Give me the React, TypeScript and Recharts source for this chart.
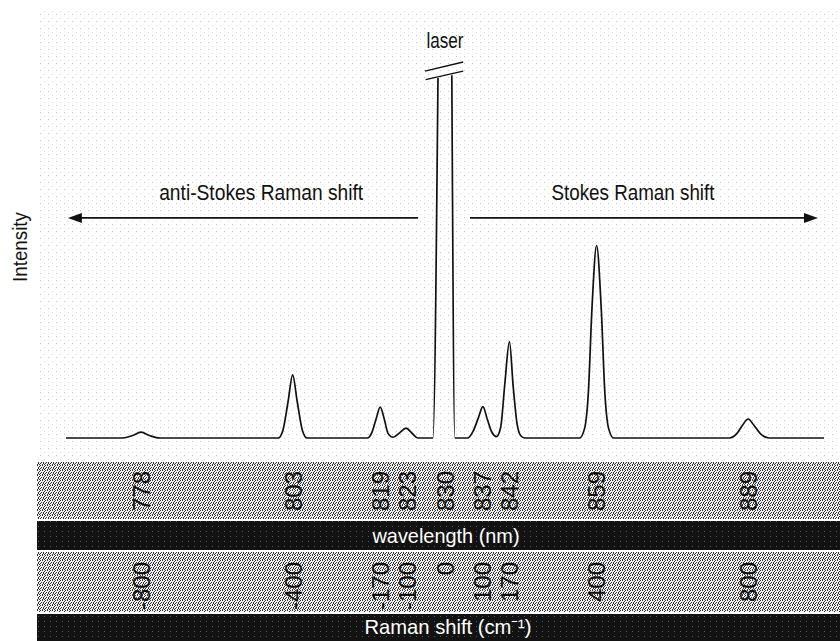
import React from 'react';
import { LineChart, Line, XAxis, YAxis, ReferenceLine, ReferenceDot } from 'recharts';

// Raman shift (cm-1) positions of the hand-read spectrum points
const spectrumShift = [
  -1000, -850, -826, -802, -778, -752,
  -440, -428, -414, -402, -390, -376, -364,
  -205, -193, -181, -171, -161, -150, -137,
  -120, -103, -87, -72,
  -32, -18.5, 0, 18, 26,
  60, 74, 88, 100, 112, 124, 136,
  147, 158, 170, 180, 190, 200, 210,
  355, 368, 378, 388, 400, 412, 422, 432, 445,
  750, 770, 785, 800, 815, 832, 855, 1000,
];
// Intensity (arbitrary units); null = broken laser line top
const spectrumIntensity: (number | null)[] = [
  0, 0, 0.6, 1.6, 0.6, 0,
  0, 2, 10, 17.3, 10, 2, 0,
  0, 1.5, 5.5, 8.5, 5.5, 1.2, 0.2,
  1.4, 2.7, 1.3, 0,
  0, 98.6, null, 99.4, 0,
  0, 1.8, 5.5, 8.6, 5, 1.5, 0.4,
  3, 15, 26.4, 14, 4, 0.6, 0,
  0, 2.5, 12, 36, 52.7, 36, 12, 2.5, 0,
  0, 1.2, 3.5, 5.2, 3.5, 1.2, 0, 0,
];

const ramanTicks = [-800, -400, -170, -100, 0, 100, 170, 400, 800];
const ramanTickLabels = ['-800', '-400', '-170', '-100', '0', '100', '170', '400', '800'];
const wavelengthTickLabels = ['778', '803', '819', '823', '830', '837', '842', '859', '889'];

const arrowLevel = 60.3;
const leftArrow = { from: -995, to: -71 };
const rightArrow = { from: 66, to: 984 };
const breakUpper = [{ x: -53, y: 100.5 }, { x: 48, y: 103 }];
const breakLower = [{ x: -51, y: 98.2 }, { x: 48, y: 100.5 }];

const annotations = [
  { x: -485, y: 65.2, text: 'anti-Stokes Raman shift', len: 204 },
  { x: 496, y: 65.2, text: 'Stokes Raman shift', len: 163 },
  { x: 0, y: 106.8, text: 'laser', len: 37 },
];

const data = spectrumShift.map((s, i) => ({ shift: s, intensity: spectrumIntensity[i] }));

const W = 840;
const H = 641;
const FONT = '"Liberation Sans Narrow", "Arial Narrow", "Liberation Sans", Arial, sans-serif';
const WL_AXIS = 0;
const RS_AXIS = 1;

function Background() {
  const dots = [
    [0, 0], [2, 0], [4, 1], [1, 2], [3, 2], [0, 3], [2, 4], [4, 4], [3, 3],
  ];
  return (
    <svg width={W} height={H} style={{ position: 'absolute', left: 0, top: 0 }}>
      <defs>
        <pattern id="sparse" width="8" height="7" patternUnits="userSpaceOnUse">
          <rect x="0" y="0" width="1" height="1" fill="#c4c4c4" />
          <rect x="4" y="4" width="1" height="1" fill="#d6d6d6" />
        </pattern>
        <pattern id="stipple" width="5" height="5" patternUnits="userSpaceOnUse">
          <rect width="5" height="5" fill="#f2f2f2" />
          {dots.map(([x, y], i) => (
            <rect key={i} x={x} y={y} width="1" height="1" fill="#333333" />
          ))}
        </pattern>
        <pattern id="darkband" width="6" height="5" patternUnits="userSpaceOnUse">
          <rect width="6" height="5" fill="#121212" />
          <rect x="2" y="1" width="1" height="1" fill="#5a5a5a" />
        </pattern>
      </defs>
      <rect x={0} y={0} width={W} height={H} fill="#ffffff" />
      <rect x={37} y={8} width={803} height={452} fill="url(#sparse)" />
      <rect x={37} y={462} width={803} height={57} fill="url(#stipple)" />
      <rect x={37} y={521} width={803} height={29} fill="url(#darkband)" />
      <rect x={37} y={552} width={803} height={60} fill="url(#stipple)" />
      <rect x={37} y={614} width={803} height={27} fill="url(#darkband)" />
    </svg>
  );
}

const makeTick = (labels: string[], offset: number) => (props: any) => {
  const { x, y, payload } = props;
  const idx = ramanTicks.indexOf(payload.value);
  const label = labels[idx] ?? String(payload.value);
  const ay = y + offset;
  return (
    <text
      x={x}
      y={ay}
      dy="0.355em"
      textAnchor="end"
      transform={`rotate(-90 ${x} ${ay})`}
      fontSize={24}
      fontFamily={FONT}
      fill="#111"
    >
      {label}
    </text>
  );
};

const WlTick = makeTick(wavelengthTickLabels, 33);
const RsTick = makeTick(ramanTickLabels, 11);

const WlLabel = (p: any) => {
  const vb = p.viewBox || { x: 66, y: 438, width: 758, height: 113 };
  return (
    <text
      x={vb.x + vb.width / 2 + 1}
      y={vb.y + 105}
      fill="#ffffff"
      fontSize={21}
      fontFamily={FONT}
      textAnchor="middle"
      textLength={147}
      lengthAdjust="spacingAndGlyphs"
    >
      wavelength (nm)
    </text>
  );
};

const RsLabel = (p: any) => {
  const vb = p.viewBox || { x: 66, y: 551, width: 758, height: 90 };
  return (
    <text
      x={vb.x + vb.width / 2 + 3}
      y={vb.y + 83}
      fill="#ffffff"
      fontSize={21}
      fontFamily={FONT}
      textAnchor="middle"
      textLength={167}
      lengthAdjust="spacingAndGlyphs"
    >
      Raman shift (cm⁻¹)
    </text>
  );
};

const IntensityLabel = (p: any) => {
  const vb = p.viewBox || { x: 0, y: 0, width: 66, height: 438 };
  const x = vb.x + 27;
  const y = vb.y + 247;
  return (
    <text
      x={x}
      y={y}
      textAnchor="middle"
      transform={`rotate(-90 ${x} ${y})`}
      fontSize={21}
      fontFamily={FONT}
      fill="#111"
      textLength={70}
      lengthAdjust="spacingAndGlyphs"
    >
      Intensity
    </text>
  );
};

const makeTextShape = (text: string, len: number) => (p: any) => (
  <text
    x={p.cx}
    y={p.cy}
    textAnchor="middle"
    fontSize={22}
    fontFamily={FONT}
    fill="#111"
    textLength={len}
    lengthAdjust="spacingAndGlyphs"
  >
    {text}
  </text>
);

const LeftHead = (p: any) => (
  <polygon
    points={`${p.cx},${p.cy} ${p.cx + 14},${p.cy - 5} ${p.cx + 14},${p.cy + 5}`}
    fill="#111"
  />
);
const RightHead = (p: any) => (
  <polygon
    points={`${p.cx},${p.cy} ${p.cx - 14},${p.cy - 5} ${p.cx - 14},${p.cy + 5}`}
    fill="#111"
  />
);

export default function App() {
  return (
    <div style={{ position: 'relative', width: W, height: H, overflow: 'hidden' }}>
      <style>{'body{margin:0;}'}</style>
      <Background />
      <div style={{ position: 'absolute', left: 0, top: 0 }}>
        <LineChart width={W} height={H} data={data} margin={{ top: 0, right: 16, bottom: 0, left: 0 }}>
          <XAxis
            xAxisId={WL_AXIS}
            type="number"
            dataKey="shift"
            domain={[-1000, 1000]}
            ticks={ramanTicks}
            interval={0}
            height={113}
            axisLine={false}
            tickLine={false}
            tickSize={0}
            tickMargin={0}
            tick={WlTick}
            label={{ content: WlLabel }}
          />
          <XAxis
            xAxisId={RS_AXIS}
            type="number"
            dataKey="shift"
            domain={[-1000, 1000]}
            ticks={ramanTicks}
            interval={0}
            height={90}
            axisLine={false}
            tickLine={false}
            tickSize={0}
            tickMargin={0}
            tick={RsTick}
            label={{ content: RsLabel }}
          />
          <YAxis
            type="number"
            domain={[0, 120]}
            width={66}
            axisLine={false}
            tickLine={false}
            tick={false}
            label={{ content: IntensityLabel }}
          />
          <ReferenceLine
            xAxisId={WL_AXIS}
            segment={[{ x: leftArrow.from + 20, y: arrowLevel }, { x: leftArrow.to, y: arrowLevel }]}
            stroke="#111"
            strokeWidth={1.6}
          />
          <ReferenceLine
            xAxisId={WL_AXIS}
            segment={[{ x: rightArrow.from, y: arrowLevel }, { x: rightArrow.to - 20, y: arrowLevel }]}
            stroke="#111"
            strokeWidth={1.6}
          />
          <ReferenceDot xAxisId={WL_AXIS} x={leftArrow.from} y={arrowLevel} r={0} shape={LeftHead} />
          <ReferenceDot xAxisId={WL_AXIS} x={rightArrow.to} y={arrowLevel} r={0} shape={RightHead} />
          <ReferenceLine xAxisId={WL_AXIS} segment={breakUpper} stroke="#111" strokeWidth={1.4} />
          <ReferenceLine xAxisId={WL_AXIS} segment={breakLower} stroke="#111" strokeWidth={1.4} />
          {annotations.map((a) => (
            <ReferenceDot
              key={a.text}
              xAxisId={WL_AXIS}
              x={a.x}
              y={a.y}
              r={0}
              shape={makeTextShape(a.text, a.len)}
            />
          ))}
          <Line
            xAxisId={WL_AXIS}
            type="monotone"
            dataKey="intensity"
            stroke="#111"
            strokeWidth={1.7}
            dot={false}
            connectNulls={false}
            isAnimationActive={false}
          />
        </LineChart>
      </div>
    </div>
  );
}
